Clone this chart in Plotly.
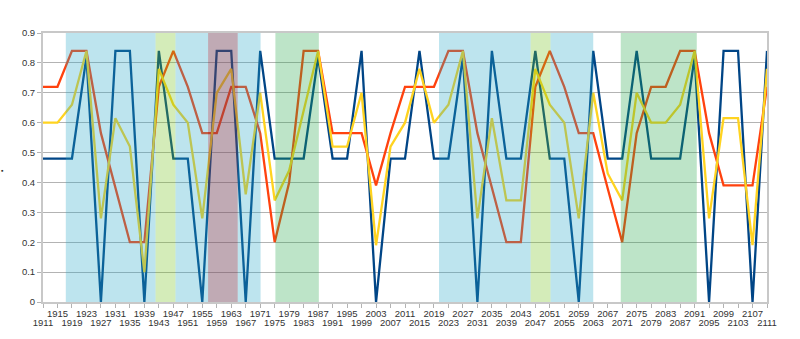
import plotly.graph_objects as go

years = list(range(1911, 2112, 4))

blue = [0.48, 0.48, 0.48, 0.82, 0.0, 0.84, 0.84, 0.0, 0.84, 0.48,
        0.48, 0.0, 0.84, 0.84, 0.0, 0.84, 0.48, 0.48, 0.48, 0.82,
        0.48, 0.48, 0.84, 0.0, 0.48, 0.48, 0.84, 0.48, 0.48, 0.82,
        0.0, 0.84, 0.48, 0.48, 0.84, 0.48, 0.48, 0.0, 0.84, 0.48,
        0.48, 0.84, 0.48, 0.48, 0.48, 0.82, 0.0, 0.84, 0.84, 0.0, 0.84]

red = [0.72, 0.72, 0.84, 0.84, 0.565, 0.38, 0.2, 0.2, 0.72, 0.84,
       0.72, 0.565, 0.565, 0.72, 0.72, 0.565, 0.2, 0.4, 0.84, 0.84,
       0.565, 0.565, 0.565, 0.39, 0.565, 0.72, 0.72, 0.72, 0.84, 0.84,
       0.565, 0.38, 0.2, 0.2, 0.72, 0.84, 0.72, 0.565, 0.565, 0.38,
       0.2, 0.565, 0.72, 0.72, 0.84, 0.84, 0.565, 0.39, 0.39, 0.39, 0.72]

yellow = [0.6, 0.6, 0.66, 0.84, 0.28, 0.615, 0.52, 0.1, 0.78, 0.66,
          0.6, 0.28, 0.7, 0.78, 0.36, 0.7, 0.34, 0.44, 0.64, 0.84,
          0.52, 0.52, 0.7, 0.19, 0.52, 0.6, 0.78, 0.6, 0.66, 0.84,
          0.28, 0.615, 0.34, 0.34, 0.78, 0.66, 0.6, 0.28, 0.7, 0.43,
          0.34, 0.7, 0.6, 0.6, 0.66, 0.84, 0.28, 0.615, 0.615, 0.19, 0.78]

# shaded periods (start, end, kind)
band_start = [1917.3, 1942.1, 1947.6, 1956.6, 1964.8, 1975.2, 2020.4, 2045.7, 2051.2, 2070.6]
band_end   = [1942.1, 1947.6, 1956.6, 1964.8, 1971.1, 1987.2, 2045.7, 2051.2, 2063.0, 2091.6]
band_kind  = ["blue", "lime", "blue", "mauve", "blue", "green", "blue", "lime", "blue", "green"]

band_colors = {
    "blue": "rgba(38,165,198,0.30)",
    "lime": "rgba(112,192,22,0.30)",
    "mauve": "rgba(115,67,89,0.45)",
    "green": "rgba(38,165,72,0.30)",
}

y_ticks = [0, 0.1, 0.2, 0.3, 0.4, 0.5, 0.6, 0.7, 0.8, 0.9]
y_labels = ["0", "0.1", "0.2", "0.3", "0.4", "0.5", "0.6", "0.7", "0.8", "0.9"]

top_labels = [str(y) if i % 2 == 1 else "" for i, y in enumerate(years)]
bottom_vals = [y for i, y in enumerate(years) if i % 2 == 0]
bottom_labels = [str(y) for y in bottom_vals]

fig = go.Figure()
for vals, col in [(blue, "#004586"), (red, "#ff420e"), (yellow, "#ffd320")]:
    fig.add_trace(go.Scatter(x=years, y=vals, mode="lines",
                             line=dict(color=col, width=2.3),
                             showlegend=False, hoverinfo="skip"))
# invisible helper on second x axis so its labels render
fig.add_trace(go.Scatter(x=[years[0], years[-1]], y=[None, None], xaxis="x2",
                         mode="lines", showlegend=False, hoverinfo="skip"))

for s, e, k in zip(band_start, band_end, band_kind):
    fig.add_shape(type="rect", xref="x", yref="paper", x0=s, x1=e, y0=0, y1=1,
                  fillcolor=band_colors[k], line=dict(width=0), layer="above")

font = dict(family="Liberation Sans, Arial, sans-serif", size=9.5, color="#333333")

fig.update_layout(
    width=800, height=339,
    margin=dict(l=43, r=33, t=33, b=37, autoexpand=False),
    paper_bgcolor="white", plot_bgcolor="white",
    font=font,
    xaxis=dict(range=[1911, 2111], tickvals=years, ticktext=top_labels,
               tickangle=0, ticks="outside", ticklen=4, tickcolor="#b3b3b3",
               automargin=False, ticklabelstandoff=-2,
               showgrid=False, zeroline=False, showline=True, linecolor="#c8c8c8",
               linewidth=2, mirror=True, tickfont=font),
    xaxis2=dict(range=[1911, 2111], overlaying="x", side="bottom", anchor="y",
                tickvals=bottom_vals, ticktext=bottom_labels, tickangle=0,
                ticks="", showgrid=False, zeroline=False, showline=False,
                automargin=False,
                ticklabelstandoff=13, tickfont=font),
    yaxis=dict(range=[0, 0.9], tickvals=y_ticks, ticktext=y_labels, ticks="outside",
               ticklen=4, tickcolor="#b3b3b3", showgrid=True, gridcolor="#b3b3b3",
               gridwidth=1, zeroline=False, showline=True, linecolor="#c8c8c8",
               automargin=False,
               linewidth=2, mirror=True, tickfont=font),
    annotations=[dict(text="▪", xref="paper", yref="paper", x=0, y=0.49,
                      xanchor="left", xshift=-44, showarrow=False,
                      font=dict(size=7, color="#333333"))],
)

fig.write_html("out.html")
